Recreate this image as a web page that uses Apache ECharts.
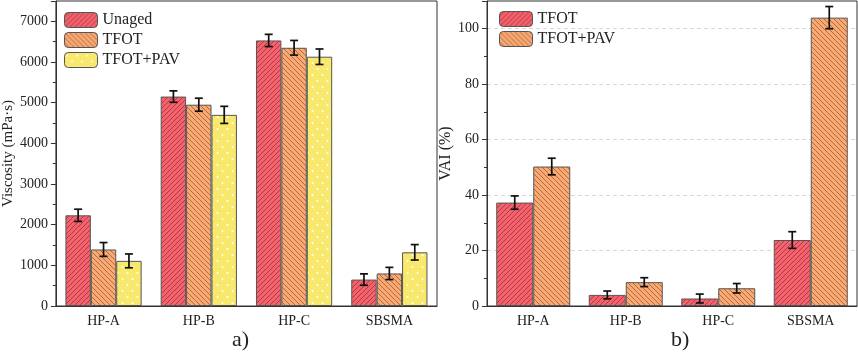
<!DOCTYPE html>
<html>
<head>
<meta charset="utf-8">
<script src="https://cdn.jsdelivr.net/npm/echarts@6/dist/echarts.min.js"></script>
<style>
  html, body { margin: 0; padding: 0; background: #fff; }
  #chart { width: 858px; height: 357px; }
</style>
</head>
<body>
<div id="chart"></div>
<script>
// data
const categories = ['HP-A', 'HP-B', 'HP-C', 'SBSMA']
// a) viscosity (mPa·s)
const unaged = [2230, 5150, 6530, 650]
const unagedErr = [150, 140, 150, 140]
const tfot = [1390, 4950, 6350, 800]
const tfotErr = [170, 160, 180, 150]
const tfotPav = [1110, 4700, 6130, 1320]
const tfotPavErr = [170, 210, 190, 190]
// b) VAI (%)
const vaiTfot = [37.3, 4.0, 2.7, 23.8]
const vaiTfotErr = [2.4, 1.4, 1.6, 3.0]
const vaiPav = [50.3, 8.6, 6.4, 104]
const vaiPavErr = [3.0, 1.6, 1.7, 4.0]

const FONT = 'Liberation Serif'

// hatch / dot fills
function hatch (bg, line, dir) {
  const s = 5
  const c = document.createElement('canvas')
  c.width = c.height = s
  const ctx = c.getContext('2d')
  ctx.fillStyle = bg
  ctx.fillRect(0, 0, s, s)
  ctx.strokeStyle = line
  ctx.lineWidth = 1
  ctx.beginPath()
  if (dir === '/') {
    ctx.moveTo(0, s); ctx.lineTo(s, 0)
    ctx.moveTo(-1, 1); ctx.lineTo(1, -1)
    ctx.moveTo(s - 1, s + 1); ctx.lineTo(s + 1, s - 1)
  } else {
    ctx.moveTo(0, 0); ctx.lineTo(s, s)
    ctx.moveTo(-1, s - 1); ctx.lineTo(1, s + 1)
    ctx.moveTo(s - 1, -1); ctx.lineTo(s + 1, 1)
  }
  ctx.stroke()
  return { image: c, repeat: 'repeat' }
}
function dots (bg) {
  const c = document.createElement('canvas')
  c.width = 10
  c.height = 12
  const ctx = c.getContext('2d')
  ctx.fillStyle = bg
  ctx.fillRect(0, 0, 10, 12)
  ctx.fillStyle = '#ffffff'
  ctx.beginPath(); ctx.arc(2.5, 3, 1, 0, Math.PI * 2); ctx.fill()
  ctx.beginPath(); ctx.arc(7.5, 9, 1, 0, Math.PI * 2); ctx.fill()
  return { image: c, repeat: 'repeat' }
}

const redFill = hatch('#f2636b', '#b8364a', '/')
const orangeFill = hatch('#f8aa74', '#b8683c', '\\')
const yellowFill = dots('#f8e86c')

function barSeries (name, data, fill, axis) {
  return {
    name,
    type: 'bar',
    xAxisIndex: axis,
    yAxisIndex: axis,
    data,
    barGap: '0%',
    barCategoryGap: '20%',
    itemStyle: { color: fill, borderColor: '#555', borderWidth: 1 },
    emphasis: { disabled: true }
  }
}

// error bars drawn at each bar's centre
function errSeries (vals, errs, k, n, axis) {
  return {
    type: 'custom',
    xAxisIndex: axis,
    yAxisIndex: axis,
    silent: true,
    z: 5,
    encode: { x: 0, y: 1 },
    data: vals.map((v, i) => [i, v, errs[i]]),
    renderItem (params, api) {
      const i = api.value(0)
      const v = api.value(1)
      const e = api.value(2)
      const bandW = api.size([1, 0])[0]
      const barW = bandW * 0.8 / n
      const cx = api.coord([i, v])[0] + (k - (n - 1) / 2) * barW
      const top = api.coord([i, v + e])[1]
      const bot = api.coord([i, v - e])[1]
      const cap = 4
      const st = { stroke: '#111', lineWidth: 1.7 }
      return {
        type: 'group',
        children: [
          { type: 'line', shape: { x1: cx, y1: top, x2: cx, y2: bot }, style: st },
          { type: 'line', shape: { x1: cx - cap, y1: top, x2: cx + cap, y2: top }, style: st },
          { type: 'line', shape: { x1: cx - cap, y1: bot, x2: cx + cap, y2: bot }, style: st }
        ]
      }
    }
  }
}

function xAxisOf (idx) {
  return {
    type: 'category',
    gridIndex: idx,
    data: categories,
    axisLine: { lineStyle: { color: '#333', width: 1 } },
    axisTick: { inside: true, length: 3, lineStyle: { color: '#333' } },
    axisLabel: { color: '#222', fontFamily: FONT, fontSize: 14, margin: 8 }
  }
}
function yAxisOf (idx, max, interval, name, nameSize, nameGap, grid) {
  return {
    type: 'value',
    gridIndex: idx,
    min: 0,
    max,
    interval,
    name,
    nameLocation: 'middle',
    nameGap,
    nameTextStyle: { color: '#222', fontFamily: FONT, fontSize: nameSize },
    axisLine: { show: true, lineStyle: { color: '#333', width: 1 } },
    axisTick: { show: true, length: 5, lineStyle: { color: '#333' } },
    minorTick: { show: true, splitNumber: 2, length: 3, lineStyle: { color: '#333' } },
    axisLabel: {
      color: '#222',
      fontFamily: FONT,
      fontSize: 14,
      margin: 8,
      showMaxLabel: false,
      formatter: v => String(v)
    },
    splitLine: grid
      ? { show: true, showMinLine: false, showMaxLine: false, lineStyle: { color: '#d8d8d8', type: [4, 3], width: 1 } }
      : { show: false }
  }
}

const chart = echarts.init(document.getElementById('chart'))
chart.setOption({
  animation: false,
  backgroundColor: '#fff',
  grid: [
    { left: 52, right: 421, top: 1, bottom: 51, show: true, borderColor: '#333', borderWidth: 1 },
    { left: 487, right: 1, top: 1, bottom: 51, show: true, borderColor: '#333', borderWidth: 1 }
  ],
  legend: [
    {
      data: ['Unaged', 'TFOT', 'TFOT+PAV'],
      orient: 'vertical',
      left: 59,
      top: 7,
      itemWidth: 33,
      itemHeight: 15,
      itemGap: 4,
      itemStyle: { borderColor: '#555', borderWidth: 1 },
      textStyle: { color: '#222', fontFamily: FONT, fontSize: 16 },
      selectedMode: false
    },
    {
      data: ['TFOT ', 'TFOT+PAV '],
      orient: 'vertical',
      left: 494,
      top: 6,
      itemWidth: 33,
      itemHeight: 15,
      itemGap: 4,
      itemStyle: { borderColor: '#555', borderWidth: 1 },
      textStyle: { color: '#222', fontFamily: FONT, fontSize: 16 },
      selectedMode: false
    }
  ],
  xAxis: [xAxisOf(0), xAxisOf(1)],
  yAxis: [
    yAxisOf(0, 7500, 1000, 'Viscosity (mPa·s)', 15, 26, false),
    yAxisOf(1, 110, 20, 'VAI (%)', 16, 32, true)
  ],
  graphic: [
    { type: 'text', left: 232, top: 329, style: { text: 'a)', font: '22px "Liberation Serif"', fill: '#222' } },
    { type: 'text', left: 671, top: 329, style: { text: 'b)', font: '22px "Liberation Serif"', fill: '#222' } }
  ],
  series: [
    barSeries('Unaged', unaged, redFill, 0),
    barSeries('TFOT', tfot, orangeFill, 0),
    barSeries('TFOT+PAV', tfotPav, yellowFill, 0),
    errSeries(unaged, unagedErr, 0, 3, 0),
    errSeries(tfot, tfotErr, 1, 3, 0),
    errSeries(tfotPav, tfotPavErr, 2, 3, 0),
    barSeries('TFOT ', vaiTfot, redFill, 1),
    barSeries('TFOT+PAV ', vaiPav, orangeFill, 1),
    errSeries(vaiTfot, vaiTfotErr, 0, 2, 1),
    errSeries(vaiPav, vaiPavErr, 1, 2, 1)
  ]
})
window.addEventListener('resize', () => { chart.resize() })
</script>
</body>
</html>
